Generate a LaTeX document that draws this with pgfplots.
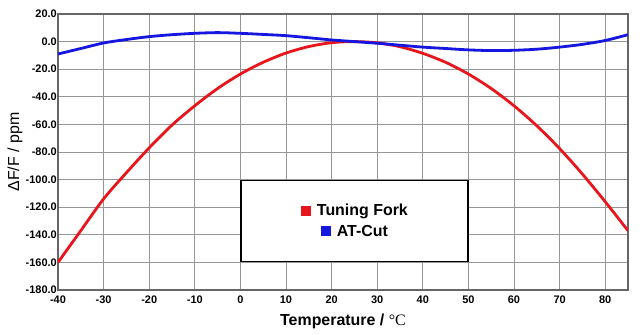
\documentclass[border=0pt]{standalone}
\usepackage{pgfplots}
\pgfplotsset{compat=1.18}
\usepackage{fontspec}
\setmainfont{Liberation Sans}
\newfontfamily\seriffont{Liberation Serif}
\definecolor{cred}{RGB}{232,22,28}
\definecolor{cblue}{RGB}{22,22,225}
\definecolor{gridc}{RGB}{150,150,150}
\begin{document}
\begin{tikzpicture}
\path[use as bounding box] (-58bp,-45bp) rectangle (584bp,290bp);
\begin{axis}[
  at={(0,0)}, anchor=south west,
  scale only axis, width=570bp, height=276bp,
  xmin=-40, xmax=85, ymin=-180, ymax=20,
  xtick={-40,-30,-20,-10,0,10,20,30,40,50,60,70,80},
  ytick={-180,-160,-140,-120,-100,-80,-60,-40,-20,0,20},
  xticklabels={-40,-30,-20,-10,0,10,20,30,40,50,60,70,80},
  yticklabels={-180.0,-160.0,-140.0,-120.0,-100.0,-80.0,-60.0,-40.0,-20.0,0.0,20.0},
  grid=major,
  major grid style={gridc, line width=0.8bp},
  axis line style={black!60, line width=1.3bp},
  major tick length=0pt,
  tick label style={font=\bfseries\fontsize{11}{12}\selectfont},
  yticklabel style={inner sep=0pt, xshift=-1bp},
  xticklabel style={inner sep=0pt, yshift=-6bp},
  xlabel={\bfseries Temperature / {\seriffont\mdseries °C}},
  xlabel style={at={(axis description cs:0.5,0)}, anchor=north, yshift=-24bp, inner sep=0pt, font=\fontsize{16}{19}\selectfont},
  ylabel={ΔF/F / ppm},
  ylabel style={at={(axis description cs:0,0.5)}, anchor=center, yshift=43bp, inner sep=0pt, font=\fontsize{16}{19}\selectfont},
  legend style={at={(0.52,0.25)}, anchor=center, draw=black, fill=white, line width=1.6bp,
    minimum width=227bp, minimum height=81bp,
    nodes={minimum width=0pt, minimum height=0pt, inner sep=1.5bp},
    font=\bfseries\fontsize{16}{19}\selectfont, row sep=5bp},
  legend cell align=center,
  legend image code/.code={},
]
\addplot[cred, line width=2.8bp, smooth] coordinates {
(-40,-160) (-35,-137) (-30,-114) (-25,-95) (-20,-77) (-15,-60.5) (-10,-46.5) (-5,-34)
(0,-23.5) (5,-15) (10,-8.3) (15,-3.6) (20,-0.8) (25,0) (30,-0.9) (35,-3.7) (40,-8.5)
(45,-15) (50,-23.5) (55,-34) (60,-46.5) (65,-61) (70,-77.5) (75,-96) (80,-116) (85,-137)
};
\addlegendentry{\textcolor{cred}{\rule{10bp}{10bp}}\hspace{6bp}Tuning Fork}
\addplot[cblue, line width=2.8bp, smooth] coordinates {
(-40,-9) (-35,-5) (-30,-1) (-25,1.5) (-20,3.6) (-15,5) (-10,6) (-5,6.5) (0,6) (5,5.2)
(10,4.3) (15,2.8) (20,1.2) (25,0) (30,-1.2) (35,-2.6) (40,-4) (45,-5) (50,-6) (55,-6.5)
(60,-6.3) (65,-5.5) (70,-4) (75,-2) (80,0.8) (85,5)
};
\addlegendentry{\textcolor{cblue}{\rule{10bp}{10bp}}\hspace{6bp}AT-Cut}
\end{axis}
\end{tikzpicture}
\end{document}
